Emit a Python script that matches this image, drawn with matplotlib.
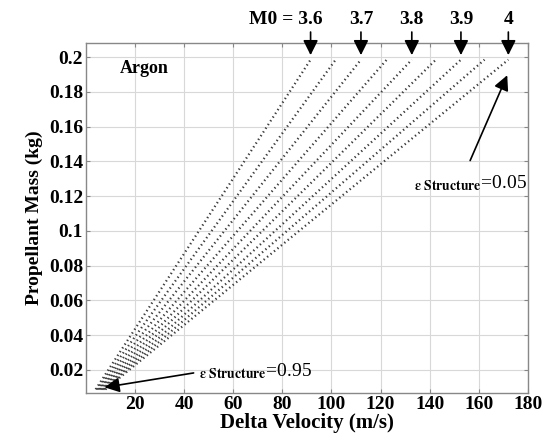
import matplotlib
matplotlib.use("Agg")
import matplotlib.pyplot as plt

plt.rcParams['font.family'] = ['Liberation Serif', 'DejaVu Serif']
plt.rcParams['mathtext.fontset'] = 'stix'

# one dotted line per initial mass M0 (3.6 .. 4.0 step 0.05)
m0_values = [3.6, 3.65, 3.7, 3.75, 3.8, 3.85, 3.9, 3.95, 4.0]
# end points: (delta V, propellant mass)
dv_low = [4.0, 4.5, 5.0, 5.5, 6.0, 6.5, 7.0, 7.5, 8.0]
dv_high = [91.5, 101.7, 112.0, 122.5, 132.7, 142.5, 152.7, 162.3, 172.0]
mp_low = [0.0088, 0.0088, 0.0088, 0.0088, 0.0088, 0.0088, 0.0088, 0.0088, 0.0088]
mp_high = [0.1985, 0.1985, 0.1985, 0.1985, 0.1985, 0.1985, 0.1985, 0.1985, 0.1985]

x_ticks = [20, 40, 60, 80, 100, 120, 140, 160, 180]
y_ticks = [0.02, 0.04, 0.06, 0.08, 0.1, 0.12, 0.14, 0.16, 0.18, 0.2]
y_labels = ["0.02", "0.04", "0.06", "0.08", "0.1", "0.12", "0.14", "0.16", "0.18", "0.2"]

# arrows on top for labelled M0
top_labels = ["M0 = 3.6", "3.7", "3.8", "3.9", "4"]
top_index = [0, 2, 4, 6, 8]

fig = plt.figure(figsize=(5.5, 4.36), dpi=100)
ax = fig.add_axes([0.156, 0.099, 0.804, 0.802])

for i in range(len(m0_values)):
    ax.plot([dv_low[i], dv_high[i]], [mp_low[i], mp_high[i]],
            linestyle=(0, (0.6, 1.4)), color="#3a3a3a", linewidth=1.6)

ax.set_xlim(0, 180)
ax.set_ylim(0.0068, 0.208)
ax.set_xticks(x_ticks)
ax.set_yticks(y_ticks)
ax.set_yticklabels(y_labels)
ax.grid(True, color="#d8d8d8", linewidth=0.8)
ax.set_axisbelow(True)
ax.tick_params(direction="in", top=True, right=True, length=3, color="#888888",
               labelsize=14, pad=2)
for lab in ax.get_xticklabels() + ax.get_yticklabels():
    lab.set_fontweight("bold")
for s in ax.spines.values():
    s.set_color("#888888")
    s.set_linewidth(1.0)

ax.set_xlabel("Delta Velocity (m/s)", fontsize=15, fontweight="bold", labelpad=0)
ax.set_ylabel("Propellant Mass (kg)", fontsize=14, fontweight="bold", labelpad=4)

ax.text(14, 0.1935, "Argon", fontsize=13, fontweight="bold", va="center")

for k, idx in enumerate(top_index):
    ax.annotate("", xy=(dv_high[idx], mp_high[idx] + 0.001), xytext=(dv_high[idx], 0.216),
                annotation_clip=False,
                arrowprops=dict(arrowstyle="-|>,head_length=0.9,head_width=0.45",
                                color="black", lw=1.2))
    ha = "right" if k == 0 else "center"
    xoff = 5 if k == 0 else 0
    ax.text(dv_high[idx] + xoff, 0.2165, top_labels[k], fontsize=14, fontweight="bold",
            ha=ha, va="bottom", clip_on=False)

ax.annotate("", xy=(172, 0.191), xytext=(156, 0.139),
            arrowprops=dict(arrowstyle="-|>,head_length=0.9,head_width=0.45",
                            color="black", lw=1.2))
ax.text(133.5, 0.1275, r"$_{\mathbf{\varepsilon\ Structure}}$=0.05", fontsize=14, va="center")

ax.annotate("", xy=(6.5, 0.0097), xytext=(45, 0.0185),
            arrowprops=dict(arrowstyle="-|>,head_length=0.9,head_width=0.45",
                            color="black", lw=1.2))
ax.text(46, 0.019, r"$_{\mathbf{\varepsilon\ Structure}}$=0.95", fontsize=14, va="center")

fig.savefig("out.png", dpi=100)
